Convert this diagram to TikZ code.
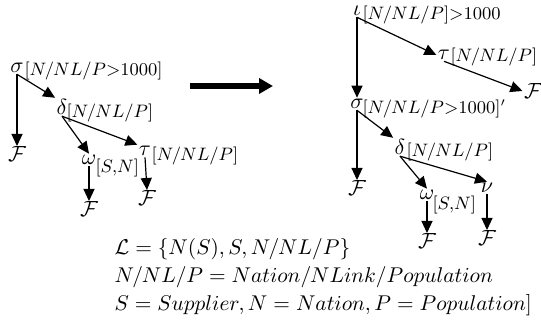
\documentclass[tikz,border=0pt]{standalone}
\usepackage{amsmath,amssymb}
\usepackage{graphicx}
\usepackage{tikz}
\usetikzlibrary{arrows.meta}

\begin{document}
\begin{tikzpicture}[
  x=0.5pt,y=-0.5pt,
  font=\fontsize{11}{13}\selectfont,
  op/.style={inner sep=0.5pt},
  sub/.style={anchor=west,inner sep=0pt,font=\fontsize{9}{11}\selectfont},
  ff/.style={anchor=north,inner sep=0pt},
  >={Triangle[length=6pt,width=5.5pt]},
  every path/.style={line width=0.6pt}
]
  \useasboundingbox (0,0) rectangle (541,320);
  % plan before the rewrite
  \node[op] (ls) at (17,68) {$\sigma$};
  \node[sub] (lss) at (24,71) {$[N/NL/P{>}1000]$};
  \node[ff] (lf1) at (17,146) {$\mathcal{F}$};
  \node[op] (ld) at (62,107) {$\delta$};
  \node[sub] (lds) at (66,113) {$[N/NL/P]$};
  \node[op] (lw) at (89,160) {$\omega$};
  \node[sub] (lws) at (95,168) {$[S,\!N]$};
  \node[op] (lt) at (145,151) {$\tau$};
  \node[sub] (lts) at (151,156) {$[N/NL/P]$};
  \node[ff] (lf2) at (89,201) {$\mathcal{F}$};
  \node[ff] (lf3) at (147,190) {$\mathcal{F}$};
  \draw[->] (ls.south) -- (lf1.north);
  \draw[->] (ls.south) -- (ld.north west);
  \draw[->] (ld.south) -- (lw.north);
  \draw[->] (ld.south) -- (lt.north west);
  \draw[->] (lw.south) -- (lf2.north);
  \draw[->] (lt.south) -- (lf3.north);
  % rewrite arrow
  \coordinate (ba1) at (190,86);
  \coordinate (ba2) at (273,86);
  \draw[line width=2.6pt,-{Triangle[length=7pt,width=7.5pt]}] (ba1) -- (ba2);
  % plan after the rewrite
  \node[op] (ri) at (357,11) {$\iota$};
  \node[sub] (ris) at (362,15) {$[N/NL/P]{>}1000$};
  \node[op] (rt) at (444,55) {$\tau$};
  \node[sub] (rts) at (450,57) {$[N/NL/P]$};
  \node[op] (rf1) at (533,91) {$\mathcal{F}$};
  \node[op] (rs) at (357,104) {$\sigma$};
  \node[sub] (rss) at (362,109) {$[N/NL/P{>}1000]'$};
  \node[ff] (rf2) at (357,180) {$\mathcal{F}$};
  \node[op] (rd) at (400,147) {$\delta$};
  \node[sub] (rds) at (406,152) {$[N/NL/P]$};
  \node[op] (rw) at (427,195) {$\omega$};
  \node[sub] (rws) at (432,205) {$[S,\!N]$};
  \node[op] (rn) at (487,188) {$\nu$};
  \node[ff] (rf3) at (427,233) {$\mathcal{F}$};
  \node[ff] (rf4) at (487,230) {$\mathcal{F}$};
  \draw[->] (ri.south) -- (rs.north);
  \draw[->] (ri.south) -- (rt.west);
  \draw[->] (rt.south) -- (rf1.west);
  \draw[->] (rs.south) -- (rf2.north);
  \draw[->] (rs.south) -- (rd.north west);
  \draw[->] (rd.south) -- (rw.north);
  \draw[->] (rd.south) -- (rn.north);
  \draw[->] (rw.south) -- (rf3.north);
  \draw[->] (rn.south) -- (rf4.north);
  % legend
  \node[anchor=north west,inner sep=0pt] (legend) at (114,236)
    {\scalebox{0.975}{\begin{tabular}{@{}l@{}}
     $\mathcal{L}=\{N(S),S,N/NL/P\}$\\[1.5pt]
     $N/NL/P=Nation/NLink/Population$\\[1.5pt]
     $S=Supplier,N=Nation,P=Population]$
     \end{tabular}}};
\end{tikzpicture}
\end{document}
